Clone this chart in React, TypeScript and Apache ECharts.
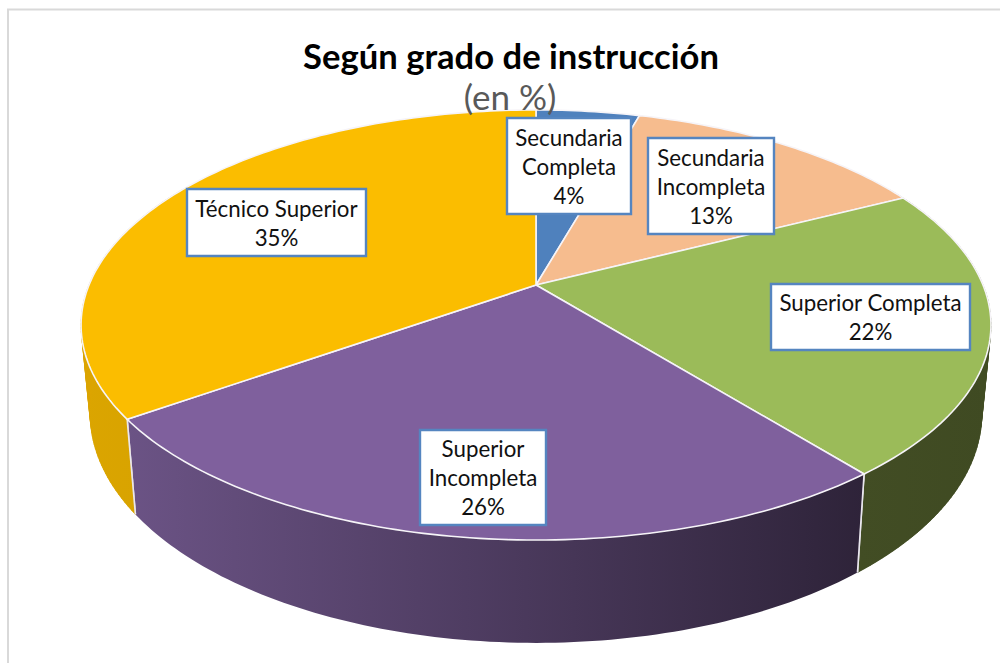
import React, { useEffect, useRef } from "react";
import * as echarts from "echarts";

const categories = [
  ["Secundaria", "Completa"],
  ["Secundaria", "Incompleta"],
  ["Superior Completa"],
  ["Superior", "Incompleta"],
  ["Técnico Superior"],
];
const shares = [4.4, 13.1, 21.7, 26.0, 34.8];
const topColors = ["#4f81bd", "#f6bc8e", "#9bbb59", "#7f609d", "#fbbd00"];
const wallStops: [string, string][] = [
  ["#3d6391", "#3d6391"],
  ["#c0906a", "#c0906a"],
  ["#424d24", "#3f4a22"],
  ["#6b5385", "#2e2339"],
  ["#dba500", "#d6a200"],
];
const labelBoxes = [
  [507, 118, 124, 96],
  [648, 138, 126, 96],
  [771, 284, 199, 66],
  [420, 430, 126, 95],
  [187, 189, 179, 67],
];

const CX = 536;
const K = 0.186;
const TOP = { y0: 285, a: 207.6, b: 447 };
const BOTTOM = { y0: 371.4, a: 221, b: 438 };
const FONT = "Lato";

function project(deg: number, plane: { y0: number; a: number; b: number }) {
  const t = (deg * Math.PI) / 180;
  const s = Math.sin(t);
  const c = Math.cos(t);
  const d = 1 + K * c;
  return [CX + (plane.b * s) / d, plane.y0 - (plane.a * c) / d];
}

function arc(from: number, to: number, plane: typeof TOP) {
  const pts: number[][] = [];
  const n = Math.max(2, Math.ceil(Math.abs(to - from)));
  for (let i = 0; i <= n; i++) pts.push(project(from + ((to - from) * i) / n, plane));
  return pts;
}

const total = shares.reduce((a, b) => a + b, 0);
function range(index: number) {
  let before = 0;
  for (let i = 0; i < index; i++) before += shares[i];
  return [(before / total) * 360, ((before + shares[index]) / total) * 360];
}

function renderWall(params: any) {
  const i = params.dataIndex;
  const [a0, a1] = range(i);
  const from = Math.max(a0, 60);
  const to = Math.min(a1, 300);
  if (to <= from) return { type: "group", children: [] };
  const children: any[] = [];
  // the outline of the wall is swept by the edge joining both planes
  if (from < 125 || to > 245) {
    for (let d = from; d < to; d += 1) {
      const e = Math.min(d + 1, to);
      children.push({
        type: "polygon",
        shape: { points: [project(d, TOP), project(e, TOP), project(e, BOTTOM), project(d, BOTTOM)] },
        style: { fill: wallStops[i][0], stroke: wallStops[i][0], lineWidth: 0.6 },
      });
    }
  }
  children.push({
    type: "polygon",
    shape: { points: [...arc(from, to, TOP), ...arc(to, from, BOTTOM)] },
    style: {
      fill: new echarts.graphic.LinearGradient(0, 0, 1, 0, [
        { offset: 0, color: wallStops[i][0] },
        { offset: 1, color: wallStops[i][1] },
      ]),
    },
  });
  [a0, a1].forEach((a) => {
    if (a >= 90 && a <= 270) {
      children.push({
        type: "line",
        shape: {
          x1: project(a, TOP)[0],
          y1: project(a, TOP)[1],
          x2: project(a, BOTTOM)[0],
          y2: project(a, BOTTOM)[1],
        },
        style: { stroke: "#e9e6ee", lineWidth: 1.6 },
      });
    }
  });
  return { type: "group", children };
}

function renderTop(params: any) {
  const i = params.dataIndex;
  const [a0, a1] = range(i);
  const pts = [project(0, { ...TOP, a: 0, b: 0 }), ...arc(a0, a1, TOP)];
  return {
    type: "polygon",
    shape: { points: pts },
    style: { fill: topColors[i], stroke: "#f6f4f8", lineWidth: 1.6 },
  };
}

function renderLabel(params: any, api: any) {
  const i = params.dataIndex;
  const [x, y, w, h] = labelBoxes[i];
  const lines = [...categories[i], `${Math.round(api.value(0))}%`];
  const lh = 29;
  const startY = y + h / 2 - (lines.length * lh) / 2 + lh / 2;
  return {
    type: "group",
    children: [
      {
        type: "rect",
        shape: { x, y, width: w, height: h },
        style: { fill: "#ffffff", stroke: "#5585c0", lineWidth: 2.4 },
      },
      ...lines.map((t, k) => ({
        type: "text",
        style: {
          text: t,
          x: x + w / 2,
          y: startY + k * lh,
          align: "center",
          verticalAlign: "middle",
          fill: "#111111",
          font: `22.3px ${FONT}`,
        },
      })),
    ],
  };
}

const seriesData = shares.map((v) => [v]);

export default function App() {
  const ref = useRef<HTMLDivElement>(null);
  useEffect(() => {
    document.body.style.margin = "0";
    const chart = echarts.init(ref.current!, null, { renderer: "svg" });
    chart.setOption({
      animation: false,
      backgroundColor: "#ffffff",
      title: [
        {
          text: "Según grado de instrucción",
          left: 511,
          top: 38,
          textAlign: "center",
          padding: 0,
          z: 20,
          textStyle: { fontFamily: FONT, fontWeight: "bold", fontSize: 34.6, color: "#000000" },
        },
        {
          text: "(en %)",
          left: 510,
          top: 78,
          textAlign: "center",
          padding: 0,
          z: 20,
          textStyle: { fontFamily: FONT, fontWeight: "normal", fontSize: 35, color: "#595959" },
        },
      ],
      graphic: [
        {
          type: "polyline",
          shape: { points: [[8, 663], [8, 9.5], [1000, 9.5]] },
          style: { stroke: "#d9d9d9", lineWidth: 2, fill: "none" },
          z: 0,
        },
      ],
      series: [
        { type: "custom", coordinateSystem: "none", renderItem: renderWall, data: seriesData, z: 2, silent: true },
        { type: "custom", coordinateSystem: "none", renderItem: renderTop, data: seriesData, z: 3, silent: true },
        { type: "custom", coordinateSystem: "none", renderItem: renderLabel, data: seriesData, z: 30, silent: true },
      ],
    });
    return () => chart.dispose();
  }, []);
  return <div ref={ref} style={{ position: "absolute", left: 0, top: 0, width: 1000, height: 663 }} />;
}
